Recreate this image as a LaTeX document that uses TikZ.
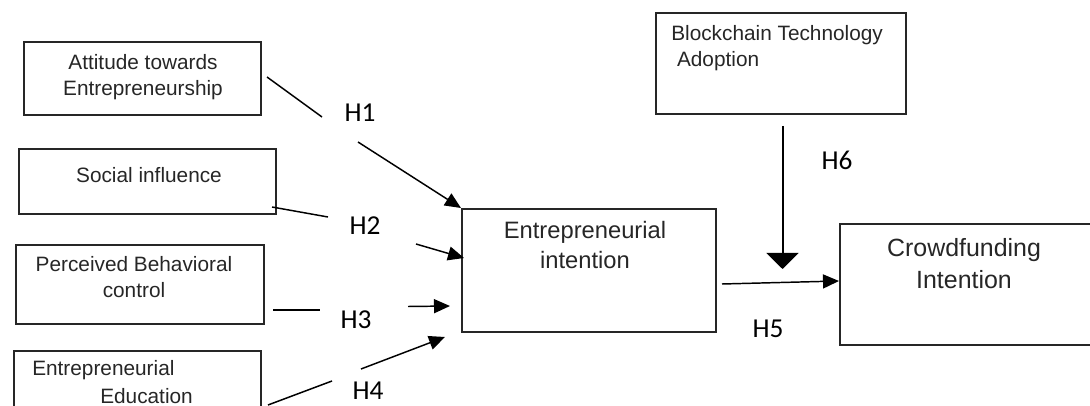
\documentclass[tikz,border=0pt]{standalone}
\usepackage{fontspec}
\setmainfont{Liberation Sans}
\newfontfamily\hypfont{Carlito}
\usetikzlibrary{arrows.meta}

\begin{document}
\begin{tikzpicture}[x=0.75pt,y=-0.75pt,
    box/.style={draw=black!85,line width=1.4pt,inner sep=0pt,anchor=north west},
    txt/.style={text=black!85,font=\fontsize{15.6}{19.5}\selectfont,inner sep=0pt,align=center},
    hyp/.style={font=\hypfont\fontsize{20.5}{24}\selectfont,inner sep=0pt},
    link/.style={line width=1.1pt,-{Triangle[length=12pt,width=10.5pt]}},
    plain/.style={line width=1.1pt}]
    \useasboundingbox (0,0) rectangle (1090,406);
    \clip (0,0) rectangle (1090,406);

    % boxes
    \node [box,minimum width=237*0.75pt,minimum height=73*0.75pt] (att) at (23,41) {};
    \node [box,minimum width=257*0.75pt,minimum height=65*0.75pt] (soc) at (18,148) {};
    \node [box,minimum width=248*0.75pt,minimum height=79*0.75pt] (pbc) at (15,244) {};
    \node [box,minimum width=247*0.75pt,minimum height=90*0.75pt] (edu) at (13,350) {};
    \node [box,minimum width=254*0.75pt,minimum height=123*0.75pt] (ent) at (461,208) {};
    \node [box,minimum width=250*0.75pt,minimum height=101*0.75pt] (bta) at (655,12) {};
    \node [box,minimum width=300*0.75pt,minimum height=121*0.75pt] (cfi) at (839,223) {};

    % texts
    \node [txt] (attt) at (143,77) {Attitude towards\\Entrepreneurship};
    \node [txt] (soct) at (149,175) {Social influence};
    \node [txt] (pbct) at (134,277) {Perceived Behavioral\\control};
    \node [txt,anchor=west] (edut1) at (32,370) {Entrepreneurial};
    \node [txt,anchor=west] (edut2) at (100,396) {Education};
    \node [txt,font=\fontsize{17.8}{22}\selectfont] (entt) at (585,245) {Entrepreneurial\\intention};
    \node [txt,align=left,anchor=west] (btat) at (671,48) {Blockchain Technology\\\ Adoption};
    \node [txt,font=\fontsize{18.7}{24}\selectfont] (cfit) at (964,264) {Crowdfunding\\Intention};

    % hypotheses
    \node [hyp] (h1) at (360,113) {H1};
    \node [hyp] (h2) at (365,226) {H2};
    \node [hyp] (h3) at (356,320) {H3};
    \node [hyp] (h4) at (368,391) {H4};
    \node [hyp] (h5) at (768,329) {H5};
    \node [hyp] (h6) at (837,160) {H6};

    \coordinate (a1) at (267,77);
    \coordinate (a2) at (322,117);
    \coordinate (a3) at (358,142);
    \draw [plain] (a1) -- (a2);
    \draw [link] (a3) -- (ent.north west);

    \coordinate (s1) at (272,207);
    \coordinate (s2) at (328,217);
    \coordinate (s3) at (416,244);
    \coordinate (s4) at (464,258);
    \draw [plain] (s1) -- (s2);
    \draw [link] (s3) -- (s4);

    \coordinate (p1) at (273,310);
    \coordinate (p2) at (320,310);
    \coordinate (p3) at (408,306.5);
    \coordinate (p4) at (450,306);
    \draw [plain] (p1) -- (p2);
    \draw [link] (p3) -- (p4);

    \coordinate (e1) at (268,405);
    \coordinate (e2) at (332,381);
    \coordinate (e3) at (361,369);
    \coordinate (e4) at (445,337);
    \draw [plain] (e1) -- (e2);
    \draw [link] (e3) -- (e4);

    \coordinate (i1) at (722,284);
    \draw [link] (i1) -- (cfi.west |- 0,281);

    \coordinate (b1) at (782.5,126);
    \coordinate (b2) at (782.5,269);
    \draw [line width=1.5pt,-{Triangle[length=12pt,width=24pt]}] (b1) -- (b2);
\end{tikzpicture}
\end{document}
